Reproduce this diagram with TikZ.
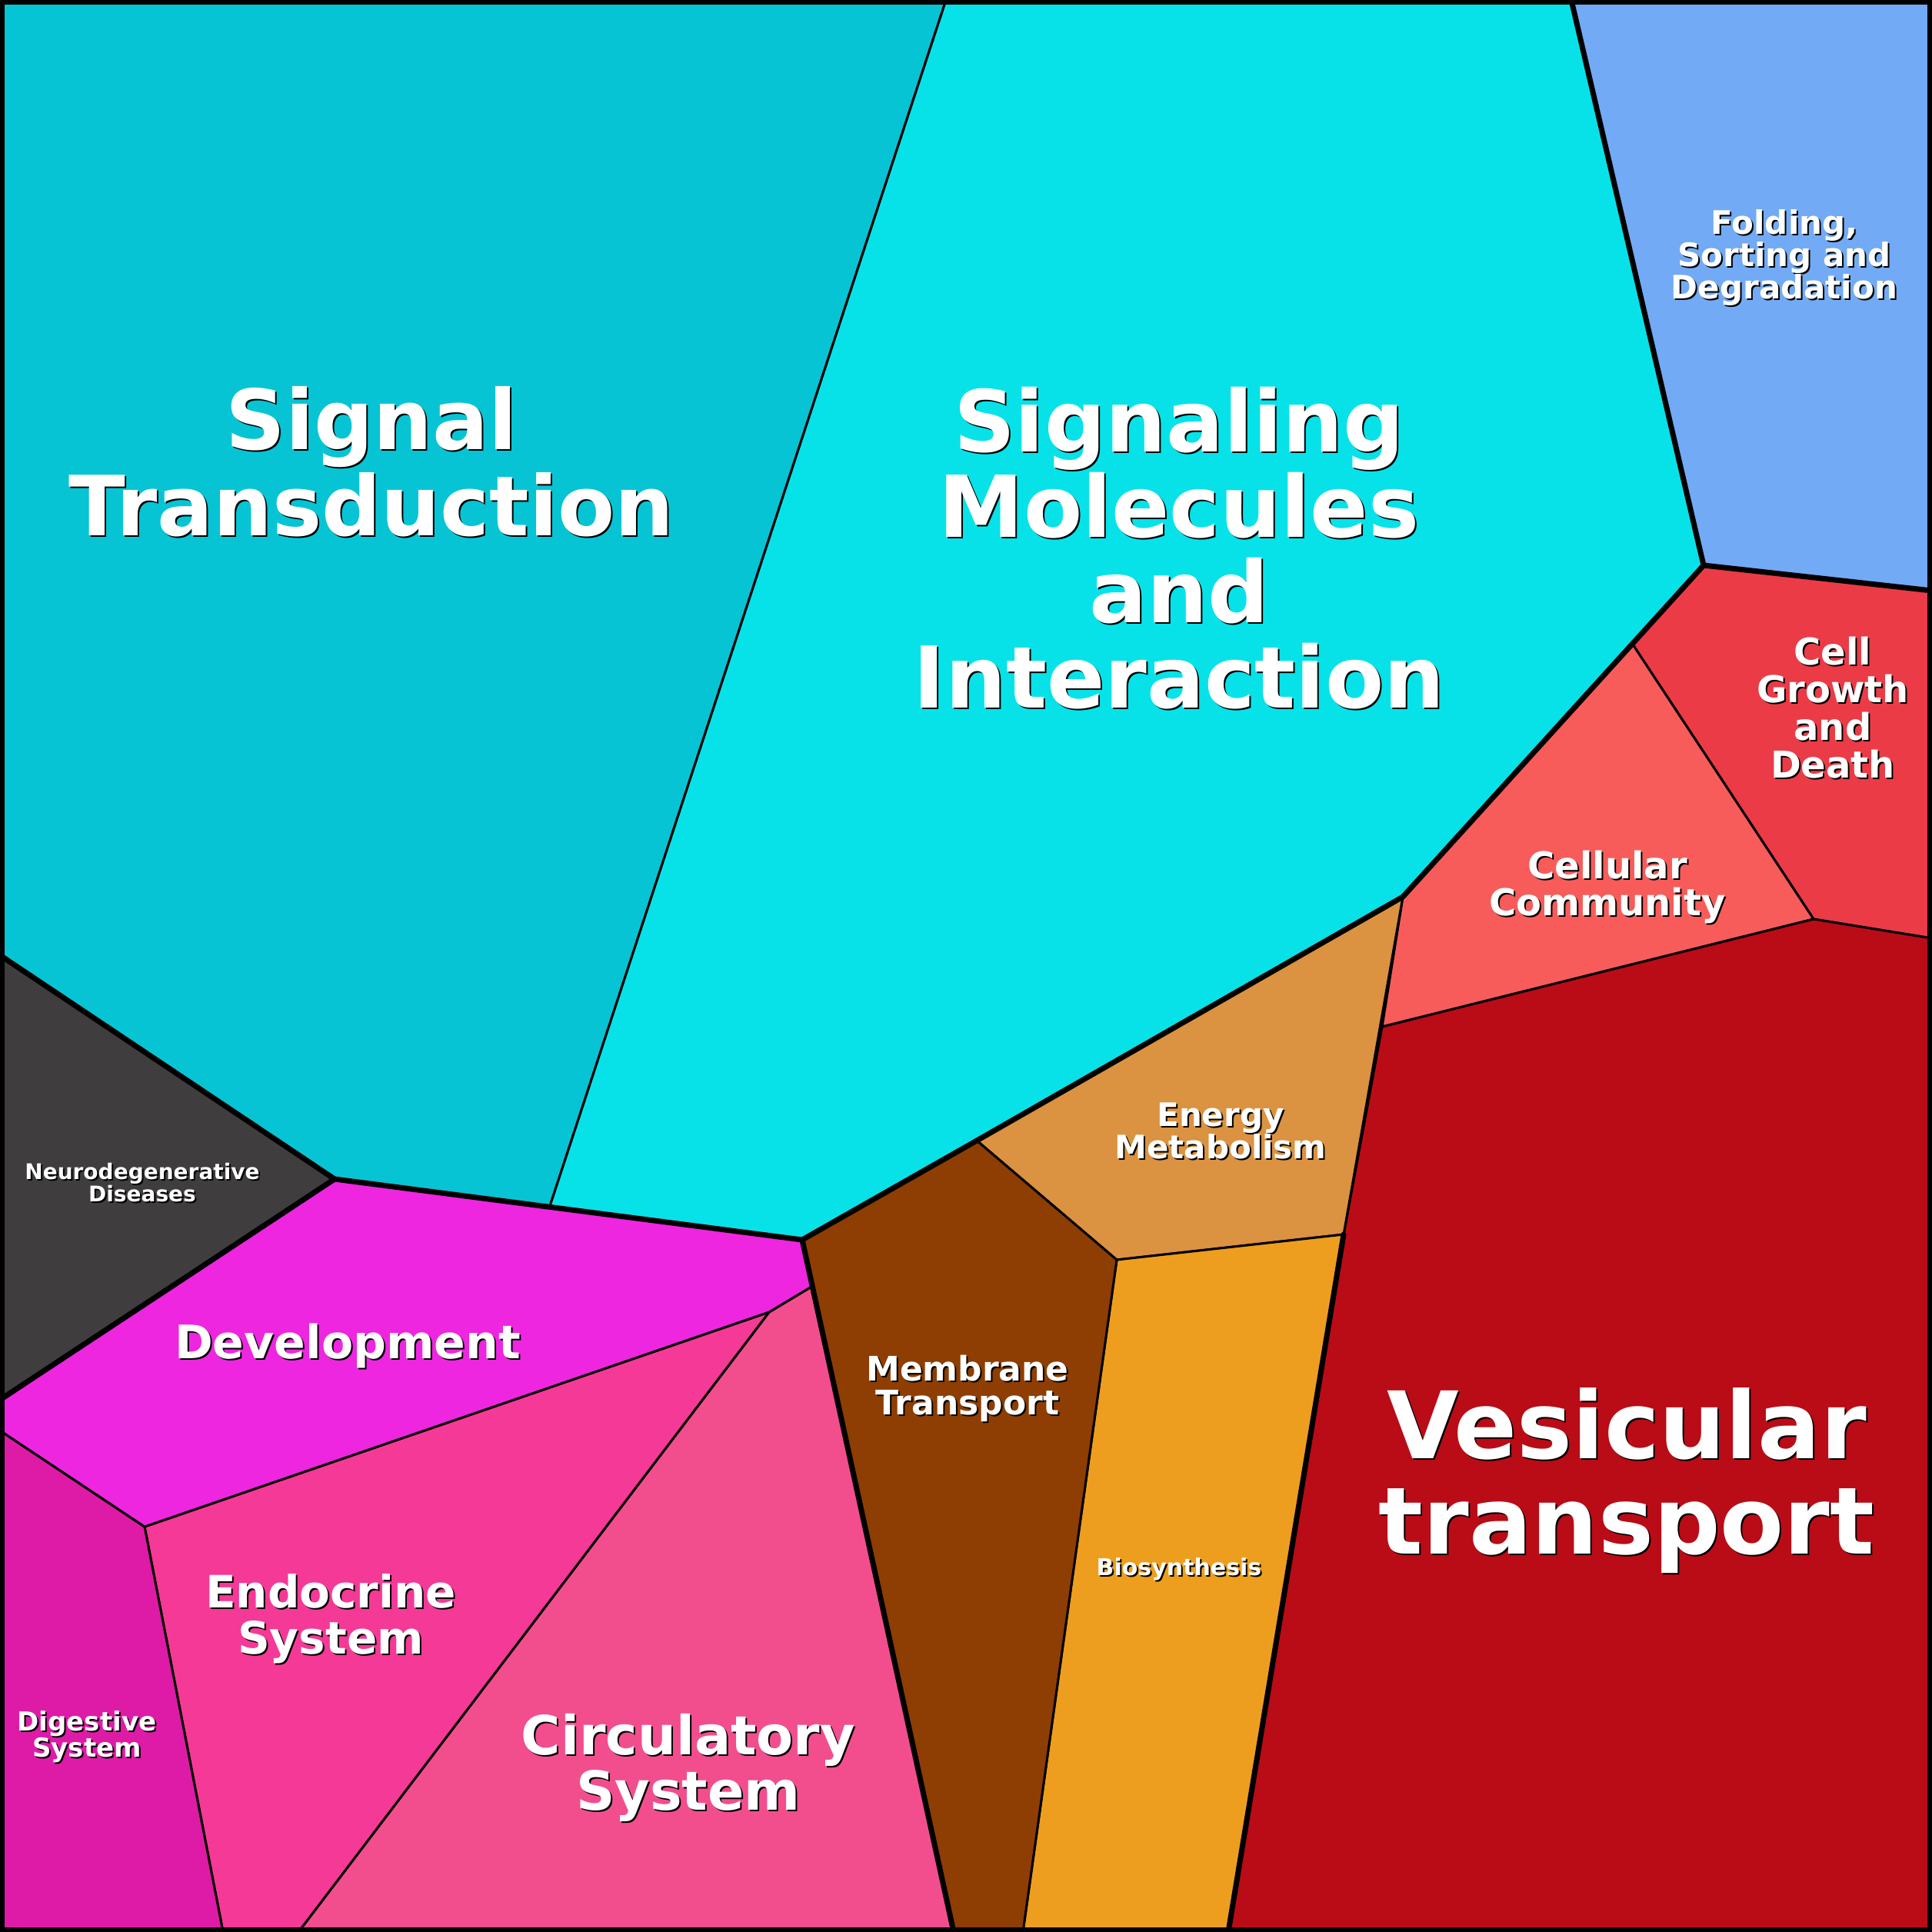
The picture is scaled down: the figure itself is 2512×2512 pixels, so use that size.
\documentclass[tikz,border=0pt]{standalone}
\usepackage{fontspec}
\setmainfont{DejaVu Sans}
\begin{document}
\begin{tikzpicture}[x=1pt,y=-1pt,
  cell/.style={draw=black,line width=3pt,line join=round},
  thick/.style={draw=black,line width=7pt,line join=round,line cap=round}]
\definecolor{cST}{HTML}{07C4D4}\definecolor{cSM}{HTML}{07E2E9}
\definecolor{cFO}{HTML}{73AAF5}\definecolor{cCG}{HTML}{EB3B46}
\definecolor{cCC}{HTML}{F85C5A}\definecolor{cVT}{HTML}{B90C16}
\definecolor{cEM}{HTML}{DB9241}\definecolor{cBS}{HTML}{EE9E1E}
\definecolor{cMT}{HTML}{8E3E03}\definecolor{cCI}{HTML}{F24E8E}
\definecolor{cEN}{HTML}{F53996}\definecolor{cDI}{HTML}{DE1BA6}
\definecolor{cDE}{HTML}{EE26E0}\definecolor{cND}{HTML}{403D3E}
\useasboundingbox (0,0) rectangle (2512,2512);
\fill[cST,cell] (0,0)--(1230,0)--(715,1568)--(435,1533)--(0,1242)--cycle;
\fill[cSM,cell] (1230,0)--(2043,0)--(2215,735)--(1824,1166)--(1270,1483)--(1043,1612)--(715,1568)--cycle;
\fill[cFO,cell] (2043,0)--(2512,0)--(2512,768)--(2215,735)--cycle;
\fill[cCG,cell] (2215,735)--(2512,768)--(2512,1220)--(2358,1195)--(2123,838)--cycle;
\fill[cCC,cell] (2123,838)--(2358,1195)--(1797,1335)--(1824,1166)--cycle;
\fill[cVT,cell] (1797,1335)--(2358,1195)--(2512,1220)--(2512,2512)--(1597,2512)--(1747,1605)--cycle;
\fill[cEM,cell] (1270,1483)--(1824,1166)--(1747,1605)--(1452,1638)--cycle;
\fill[cBS,cell] (1452,1638)--(1747,1605)--(1597,2512)--(1330,2512)--cycle;
\fill[cMT,cell] (1043,1612)--(1270,1483)--(1452,1638)--(1330,2512)--(1240,2512)--cycle;
\fill[cCI,cell] (1055,1673)--(1240,2512)--(388,2512)--(1000,1706)--cycle;
\fill[cEN,cell] (1000,1706)--(388,2512)--(290,2512)--(188,1985)--cycle;
\fill[cDI,cell] (0,1860)--(188,1985)--(290,2512)--(0,2512)--cycle;
\fill[cDE,cell] (0,1820)--(435,1533)--(1043,1612)--(1055,1673)--(1000,1706)--(188,1985)--(0,1860)--cycle;
\fill[cND,cell] (0,1242)--(435,1533)--(0,1820)--cycle;
\draw[thick] (0,1242)--(435,1533)--(1043,1612)--(1240,2512);
\draw[thick] (435,1533)--(0,1820);
\draw[thick] (1043,1612)--(1270,1483)--(1824,1166)--(2215,735)--(2512,768);
\draw[thick] (2043,0)--(2215,735);
\draw[thick] (1747,1605)--(1597,2512);
\draw[line width=12pt] (0,0) rectangle (2512,2512);
\newcommand\lbl[4]{%
 \node[text=black,font=\bfseries\fontsize{#2}{#3}\selectfont,align=center] at ([xshift=2pt,yshift=-2pt]#1) {#4};
 \node[text=white,font=\bfseries\fontsize{#2}{#3}\selectfont,align=center] at (#1) {#4};}
\lbl{483,600}{108}{112}{Signal\\Transduction}
\lbl{1533,713}{111}{111}{Signaling\\Molecules\\and\\Interaction}
\lbl{2115,1925}{121}{124}{Vesicular\\transport}
\lbl{2320,335}{42}{42}{Folding,\\Sorting and\\Degradation}
\lbl{2383,920}{48}{49}{Cell\\Growth\\and\\Death}
\lbl{2090,1153}{48}{48}{Cellular\\Community}
\lbl{1587,1470}{42}{42}{Energy\\Metabolism}
\lbl{1258,1805}{44}{44}{Membrane\\Transport}
\lbl{1533,2040}{30}{30}{Biosynthesis}
\lbl{452,1750}{60}{60}{Development}
\lbl{430,2105}{58}{60}{Endocrine\\System}
\lbl{895,2298}{70}{72}{Circulatory\\System}
\lbl{113,2258}{34}{34}{Digestive\\System}
\lbl{185,1538}{28}{29}{Neurodegenerative\\Diseases}
\end{tikzpicture}
\end{document}
